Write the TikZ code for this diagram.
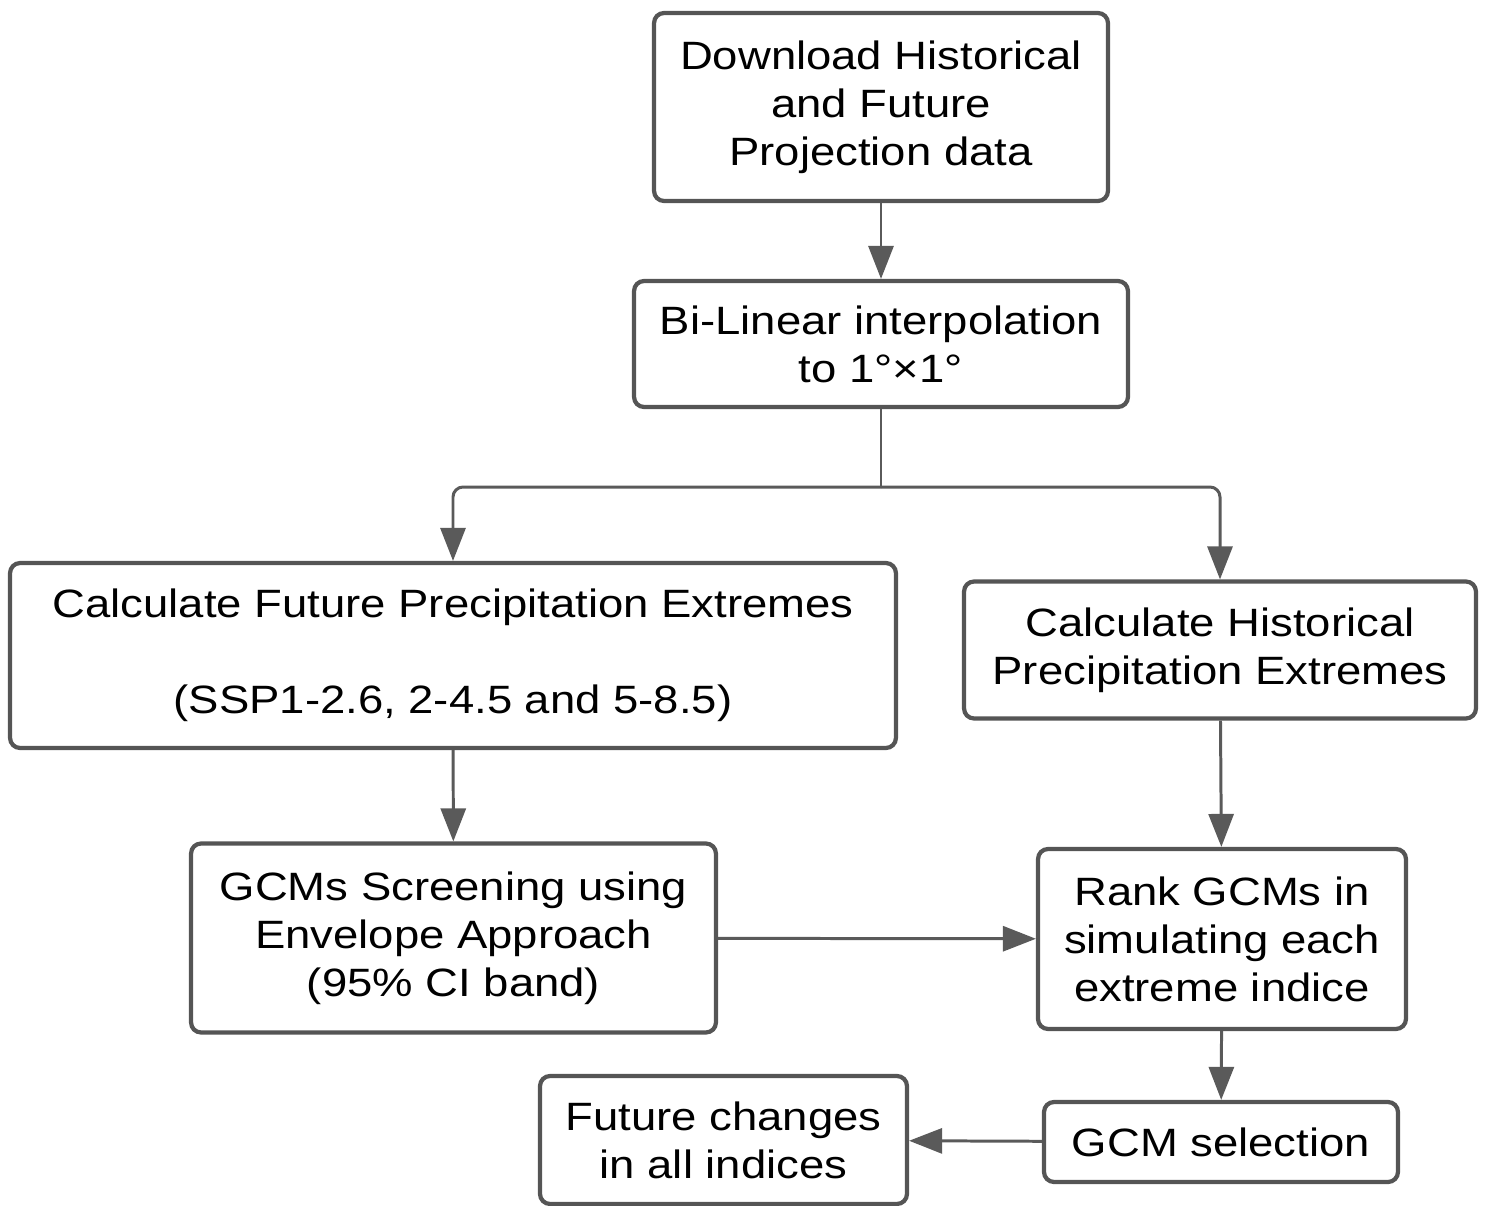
\documentclass[tikz,border=0pt]{standalone}
\usepackage{fontspec}
\setmainfont[FakeStretch=1.15]{Liberation Sans}
\usetikzlibrary{arrows.meta,positioning,calc}
\definecolor{boxgray}{HTML}{555555}
\definecolor{linegray}{HTML}{5A5A5A}

\begin{document}
\begin{tikzpicture}
[x=0.02cm,y=-0.02cm,
box/.style={draw=boxgray,line width=2.4pt,rounded corners=0.2cm,align=center,
font=\fontsize{22.5}{27.3}\selectfont,inner sep=0pt},
link/.style={draw=linegray,line width=1.7pt,-{Triangle[length=0.66cm,width=0.5cm]}},
plain/.style={draw=linegray,line width=1.7pt}]
\useasboundingbox (0,0) rectangle (1489,1205);

\node (dl) at (881,107) [box,minimum width=9.08cm,minimum height=3.76cm] {Download Historical\\and Future\\Projection data};
\node (bilin) at (881,344) [box,minimum width=9.88cm,minimum height=2.52cm] {Bi-Linear interpolation\\to 1°×1°};
\coordinate (split) at (881,487);
\node (future) at (453,655.5) [box,minimum width=17.72cm,minimum height=3.7cm] {Calculate Future Precipitation Extremes\\[27.3pt](SSP1-2.6, 2-4.5 and 5-8.5)};
\node (hist) at (1220,650) [box,minimum width=10.24cm,minimum height=2.74cm] {Calculate Historical\\Precipitation Extremes};
\node (gcms) at (453.5,938) [box,minimum width=10.5cm,minimum height=3.78cm] {GCMs Screening using\\Envelope Approach\\(95\% CI band)};
\node (rank) at (1222,939) [box,minimum width=7.36cm,minimum height=3.6cm] {Rank GCMs in\\simulating each\\extreme indice};
\node (changes) at (723.5,1140) [box,minimum width=7.34cm,minimum height=2.56cm] {Future changes\\in all indices};
\node (sel) at (1221,1142) [box,minimum width=7.08cm,minimum height=1.6cm] {GCM selection};

\draw[link] (dl) -- (bilin);
\draw[plain] (bilin) -- (split);
\draw[link,rounded corners=0.2cm] (split) -| (future);
\draw[link,rounded corners=0.2cm] (split) -| (hist);
\draw[link] (future) -- (gcms);
\draw[link] (hist) -- (rank);
\draw[link] (gcms) -- (rank);
\draw[link] (rank) -- (sel);
\draw[link] (sel) -- (changes);

\end{tikzpicture}
\end{document}
